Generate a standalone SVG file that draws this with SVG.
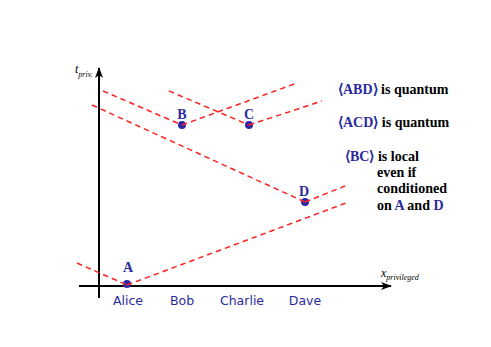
<svg xmlns="http://www.w3.org/2000/svg" width="491" height="347" viewBox="0 0 491 347">
<defs>
<marker id="ah" markerWidth="11" markerHeight="8" refX="10" refY="4" orient="auto" markerUnits="userSpaceOnUse">
<path d="M0,0 L11,4 L0,8 L3,4 Z" fill="#000"/>
</marker>
</defs>
<style>
.axis{stroke:#000;stroke-width:2;fill:none}
.lc{stroke:#ff2020;stroke-width:1.5;stroke-dasharray:5.5,4;fill:none}
.dot{fill:#2a2aa8}
.pl{font-family:"Liberation Serif","Times New Roman",serif;font-weight:bold;font-size:14px;fill:#2a2aa0;text-anchor:middle}
.nm{font-family:"DejaVu Sans",sans-serif;font-size:12.5px;fill:#2a2aa0;text-anchor:middle}
.tx{font-family:"Liberation Serif","Times New Roman",serif;font-weight:bold;font-size:14px;fill:#000}
.bl{fill:#2a2aa0}
.ax{font-family:"Liberation Serif","Times New Roman",serif;font-style:italic;fill:#000}
</style>
<rect width="491" height="347" fill="#fff"/>
<g id="axes">
<line class="axis" x1="99" y1="298" x2="99" y2="68" marker-end="url(#ah)"/>
<line class="axis" x1="79" y1="286" x2="391" y2="286" marker-end="url(#ah)"/>
<text class="ax" x="75" y="73" font-size="12">t<tspan font-size="8" dy="4">priv.</tspan></text>
<text class="ax" x="381" y="277" font-size="12">x<tspan font-size="8" dy="3">privileged</tspan></text>
</g>
<g id="nodeA"><circle class="dot" cx="127" cy="284" r="4"/><text class="pl" x="128" y="272">A</text><text class="nm" x="128" y="305">Alice</text></g>
<g id="nodeB"><circle class="dot" cx="182" cy="125" r="4"/><text class="pl" x="182" y="119">B</text><text class="nm" x="182" y="305">Bob</text></g>
<g id="nodeC"><circle class="dot" cx="249" cy="125" r="4"/><text class="pl" x="249" y="119">C</text><text class="nm" x="242" y="305">Charlie</text></g>
<g id="nodeD"><circle class="dot" cx="305" cy="202" r="4"/><text class="pl" x="304" y="196">D</text><text class="nm" x="305" y="305">Dave</text></g>
<g id="connectors">
<path class="lc" d="M77,263 L127,285"/>
<path class="lc" d="M127,285 L346,203"/>
<path class="lc" d="M92,105 L305,202"/>
<path class="lc" d="M305,202 L345,186"/>
<path class="lc" d="M103,91 L182,125"/>
<path class="lc" d="M182,125 L297,83"/>
<path class="lc" d="M169,91 L249,125"/>
<path class="lc" d="M249,125 L322,101"/>
</g>
<g id="notes">
<text class="tx" x="338" y="94"><tspan class="bl">⟨ABD⟩</tspan> is quantum</text>
<text class="tx" x="338" y="127"><tspan class="bl">⟨ACD⟩</tspan> is quantum</text>
<text class="tx" x="345" y="161"><tspan class="bl">⟨BC⟩</tspan> is local</text>
<text class="tx" x="377" y="177">even if</text>
<text class="tx" x="377" y="193">conditioned</text>
<text class="tx" x="377" y="210">on <tspan class="bl">A</tspan> and <tspan class="bl">D</tspan></text>
</g>
</svg>
